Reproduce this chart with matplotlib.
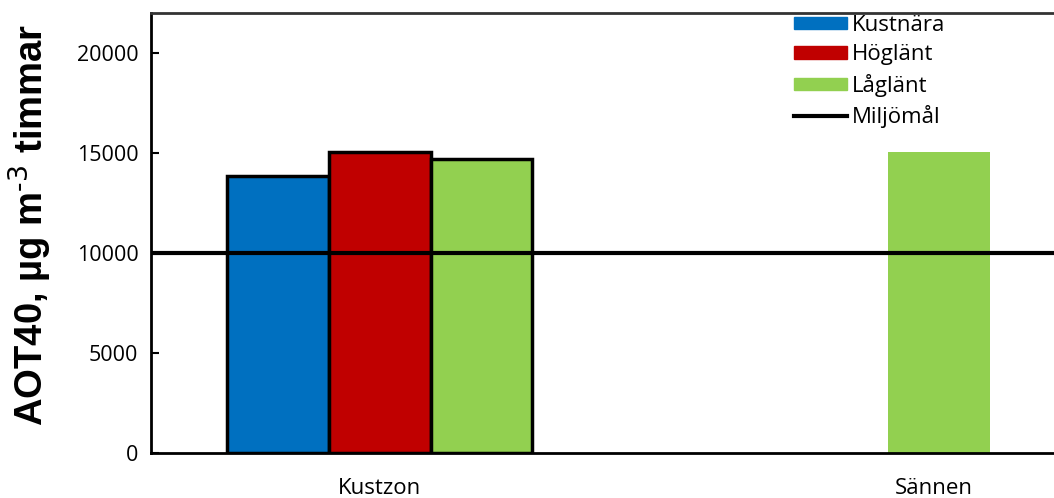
import numpy as np
import matplotlib.pyplot as plt
from matplotlib.patches import Patch
from matplotlib.lines import Line2D

# Data
kategorier = ['Kustzon', 'Sännen']
kustnara = [13850, np.nan]
hoglant = [15050, np.nan]
laglant = [14700, 15050]
miljomal = 10000

farger = {'Kustnära': '#0070C0', 'Höglänt': '#C00000', 'Låglänt': '#92D050'}

fig = plt.figure(figsize=(10.54, 4.98), dpi=100)
ax = fig.add_axes([151 / 1054, 45 / 498, 915 / 1054, 440 / 498])

x = np.arange(len(kategorier))
w = 0.2225

# Kustzon-staplarna har svart kant, Sännen saknar kant
ax.bar(x[0] - w, kustnara[0], w, color=farger['Kustnära'], edgecolor='black', linewidth=2.5, zorder=2)
ax.bar(x[0], hoglant[0], w, color=farger['Höglänt'], edgecolor='black', linewidth=2.5, zorder=2)
ax.bar(x[0] + w, laglant[0], w, color=farger['Låglänt'], edgecolor='black', linewidth=2.5, zorder=2)
ax.bar(x[1] + w, laglant[1], w, color=farger['Låglänt'], linewidth=0, zorder=2)

ax.axhline(miljomal, color='black', linewidth=3, zorder=3)

ax.set_xlim(-0.5, 1.5)
ax.set_ylim(0, 22000)
ax.set_yticks([0, 5000, 10000, 15000, 20000])
ax.set_xticks([x[0], x[1] + w - 0.012])
ax.set_xticklabels(kategorier, fontsize=16, family='Open Sans')
for lbl in ax.get_yticklabels():
    lbl.set_family('Open Sans')
    lbl.set_fontsize(15.5)
ax.tick_params(axis='y', direction='in', length=6, width=1.5, pad=9)
ax.tick_params(axis='x', length=0, pad=18)

for s in ['left', 'bottom', 'top']:
    ax.spines[s].set_linewidth(2)
ax.spines['top'].set_color('#333333')
ax.spines['right'].set_visible(False)

ax.set_ylabel('AOT40, µg m$^{\\text{-3}}$ timmar', fontsize=27.5, fontweight='bold',
              family='Liberation Sans')
ax.yaxis.set_label_coords(-0.106, 0.518)

handles = [Patch(color=farger['Kustnära']), Patch(color=farger['Höglänt']),
           Patch(color=farger['Låglänt']), Line2D([], [], color='black', linewidth=3)]
ax.legend(handles, ['Kustnära', 'Höglänt', 'Låglänt', 'Miljömål'],
          loc='upper left', bbox_to_anchor=(794 / 1054, 1 - 15 / 498), bbox_transform=fig.transFigure,
          frameon=False, handlelength=2.4, handleheight=0.5, handletextpad=0.2, labelspacing=0.38,
          borderaxespad=0, borderpad=0, prop={'family': 'Open Sans', 'size': 16})

fig.savefig('out.png', dpi=100)
